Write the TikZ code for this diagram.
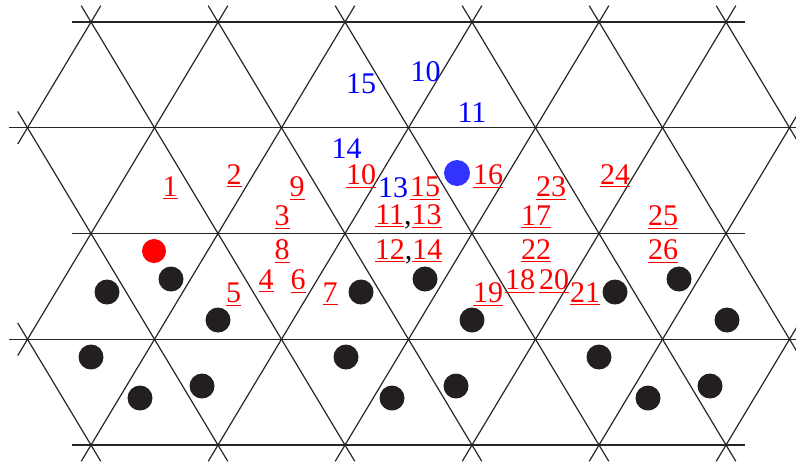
\documentclass[tikz,border=0pt]{standalone}
\usepackage{fontspec}
\setmainfont{Liberation Serif}
\usepackage{tikz}
\definecolor{dotblue}{RGB}{51,51,255}
\definecolor{dotblack}{RGB}{35,31,32}
\newcommand{\lbl}[1]{\underline{#1}}

\begin{document}
\begin{tikzpicture}[x=0.5pt,y=-0.5pt,
  grid/.style={black!85, line width=0.6pt, shorten <=-9.5pt, shorten >=-9.5pt},
  redlbl/.style={text=red, anchor=base, inner sep=0pt, font=\fontsize{15}{18}\selectfont},
  bluelbl/.style={text=blue, anchor=base, inner sep=0pt, font=\fontsize{15}{18}\selectfont}]
  \useasboundingbox (0,0) rectangle (796,463);
  \clip (0,0) rectangle (796,463);
  \foreach \c in {0,...,12}
    \foreach \r in {0,...,4}
      \coordinate (v\c-\r) at ({27.5+63.5*\c},{22+105.75*\r});
  \foreach \a/\b in {1-0/11-0, 0-1/12-1, 1-2/11-2, 0-3/12-3, 1-4/11-4}
    \draw[grid] (v\a) -- (v\b);
  \foreach \a/\b in {1-0/5-4, 0-1/3-4, 0-3/1-4, 3-0/7-4, 5-0/9-4, 7-0/11-4, 9-0/12-3, 11-0/12-1}
    \draw[grid] (v\a) -- (v\b);
  \foreach \a/\b in {0-1/1-0, 0-3/3-0, 1-4/5-0, 3-4/7-0, 5-4/9-0, 7-4/11-0, 9-4/12-1, 11-4/12-3}
    \draw[grid] (v\a) -- (v\b);
  \foreach \x/\y in {107/292, 171/279, 218/320, 91/357, 140/398, 202/386, 361/292, 346/357, 392/398,
                     425/279, 472/320, 456/386, 615/292, 679/279, 727/320, 599/357, 648/398, 710/386}
    \fill[dotblack] (\x,\y) circle (6.25pt);
  \fill[red] (154,251) circle (6pt);
  \fill[dotblue] (457,173) circle (6.5pt);
  \node[bluelbl] (b15) at (361,93) {15};
  \node[bluelbl] (b10) at (425.5,81) {10};
  \node[bluelbl] (b11) at (472,122) {11};
  \node[bluelbl] (b14) at (346.5,158) {14};
  \node[bluelbl] (b13) at (393,197) {13};
  \node[redlbl] (r1) at (170,196) {\lbl{1}};
  \node[redlbl] (r2) at (234,184) {\lbl{2}};
  \node[redlbl] (r9) at (297,196) {\lbl{9}};
  \node[redlbl] (r3) at (282,225) {\lbl{3}};
  \node[redlbl] (r10) at (361,184) {\lbl{10}};
  \node[redlbl] (r11) at (408.5,224) {\lbl{11}\textcolor{black}{,}\lbl{13}};
  \node[redlbl] (r15) at (425,196) {\lbl{15}};
  \node[redlbl] (r16) at (488,184) {\lbl{16}};
  \node[redlbl] (r23) at (551,196) {\lbl{23}};
  \node[redlbl] (r24) at (615,184) {\lbl{24}};
  \node[redlbl] (r17) at (536,225) {\lbl{17}};
  \node[redlbl] (r25) at (663,225) {\lbl{25}};
  \node[redlbl] (r12) at (408.5,259) {\lbl{12}\textcolor{black}{,}\lbl{14}};
  \node[redlbl] (r8) at (282,259) {\lbl{8}};
  \node[redlbl] (r22) at (536,259) {\lbl{22}};
  \node[redlbl] (r26) at (663,259) {\lbl{26}};
  \node[redlbl] (r4) at (266,289) {\lbl{4}};
  \node[redlbl] (r6) at (298,289) {\lbl{6}};
  \node[redlbl] (r5) at (233.5,302) {\lbl{5}};
  \node[redlbl] (r7) at (330,302) {\lbl{7}};
  \node[redlbl] (r19) at (488,302) {\lbl{19}};
  \node[redlbl] (r18) at (520,289) {\lbl{18}};
  \node[redlbl] (r20) at (554,289) {\lbl{20}};
  \node[redlbl] (r21) at (585,302) {\lbl{21}};
\end{tikzpicture}
\end{document}
